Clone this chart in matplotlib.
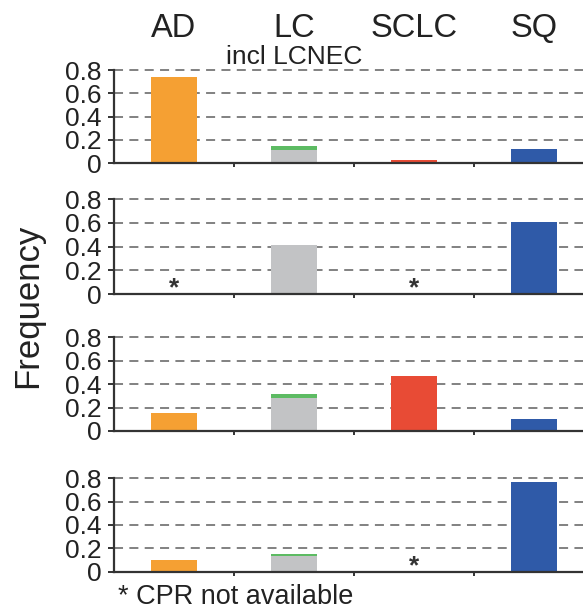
import matplotlib
matplotlib.use("Agg")
import matplotlib.pyplot as plt
import numpy as np

plt.rcParams['font.family'] = ['Liberation Sans', 'DejaVu Sans']

categories = ["AD", "LC", "SCLC", "SQ"]
bar_colors = ["#F5A033", "#C2C3C5", "#E84B35", "#2F5AA8"]
green_color = "#5DBB63"

# main bar heights per panel (AD, LC, SCLC, SQ)
panel1 = [0.74, 0.11, 0.025, 0.12]
panel2 = [0.0, 0.41, 0.0, 0.61]
panel3 = [0.15, 0.28, 0.47, 0.10]
panel4 = [0.10, 0.135, 0.0, 0.77]
# green (LCNEC) segment stacked on LC
green1 = [0.0, 0.04, 0.0, 0.0]
green2 = [0.0, 0.0, 0.0, 0.0]
green3 = [0.0, 0.04, 0.0, 0.0]
green4 = [0.0, 0.015, 0.0, 0.0]
# categories where CPR not available (star)
stars1 = []
stars2 = ["AD", "SCLC"]
stars3 = []
stars4 = ["SCLC"]

yticks = [0, 0.2, 0.4, 0.6, 0.8]
ytick_labels = ["0", "0.2", "0.4", "0.6", "0.8"]

W, H = 583, 612
fig = plt.figure(figsize=(W / 100, H / 100), dpi=100)

# panel (top, bottom) in pixels from top
panel_px = [(70, 163.3), (199, 294.3), (337.3, 431), (478.3, 571.7)]
left_px = 114
cat_w_px = 120.0
xmax = (W - left_px) / cat_w_px - 0.5

panels = [(panel1, green1, stars1), (panel2, green2, stars2),
          (panel3, green3, stars3), (panel4, green4, stars4)]

axes = []
x = np.arange(len(categories))
for (top, bot), (vals, greens, stars) in zip(panel_px, panels):
    ax = fig.add_axes([left_px / W, 1 - bot / H, 1 - left_px / W, (bot - top) / H])
    ax.set_xlim(-0.5, xmax)
    ax.set_ylim(0, 0.8)
    for yv in yticks[1:]:
        ax.axhline(yv, color="#777777", lw=1.3, ls=(0, (5, 3.5)), zorder=1, clip_on=False)
    ax.bar(x, vals, width=0.39, color=bar_colors, zorder=2)
    ax.bar(x, greens, bottom=vals, width=0.39, color=green_color, zorder=2)
    for s in stars:
        i = categories.index(s)
        ax.text(i, -0.012, "*", ha="center", va="baseline", fontsize=19,
                fontweight="bold", color="#333333", zorder=3)
    for sp in ["top", "right"]:
        ax.spines[sp].set_visible(False)
    for sp in ["left", "bottom"]:
        ax.spines[sp].set_color("#333333")
        ax.spines[sp].set_linewidth(1.6)
    ax.set_yticks(yticks)
    ax.set_yticklabels(ytick_labels, fontsize=19, color="#222222")
    ax.tick_params(axis="y", length=4, width=1.4, color="#333333", pad=5)
    ax.set_xticks([0.5, 1.5, 2.5])
    ax.set_xticklabels([])
    ax.tick_params(axis="x", length=3, width=1.4, color="#333333")
    axes.append(ax)

ax1 = axes[0]
for i, cat in enumerate(categories):
    ax1.annotate(cat, xy=(i, H - 36.7), xycoords=("data", "figure pixels"),
                 ha="center", va="baseline", fontsize=23.5, color="#222222",
                 annotation_clip=False)
ax1.annotate("incl LCNEC", xy=(1, H - 64), xycoords=("data", "figure pixels"),
             ha="center", va="baseline", fontsize=19, color="#222222",
             annotation_clip=False)

fig.text(36.7 / W, (H - 306) / H, "Frequency", rotation=90, rotation_mode="anchor",
         ha="center", va="baseline", fontsize=25, color="#222222")
fig.text(118 / W, 8 / H, "* CPR not available", ha="left", va="baseline",
         fontsize=19.5, color="#222222")

fig.savefig("out.png", dpi=100)
